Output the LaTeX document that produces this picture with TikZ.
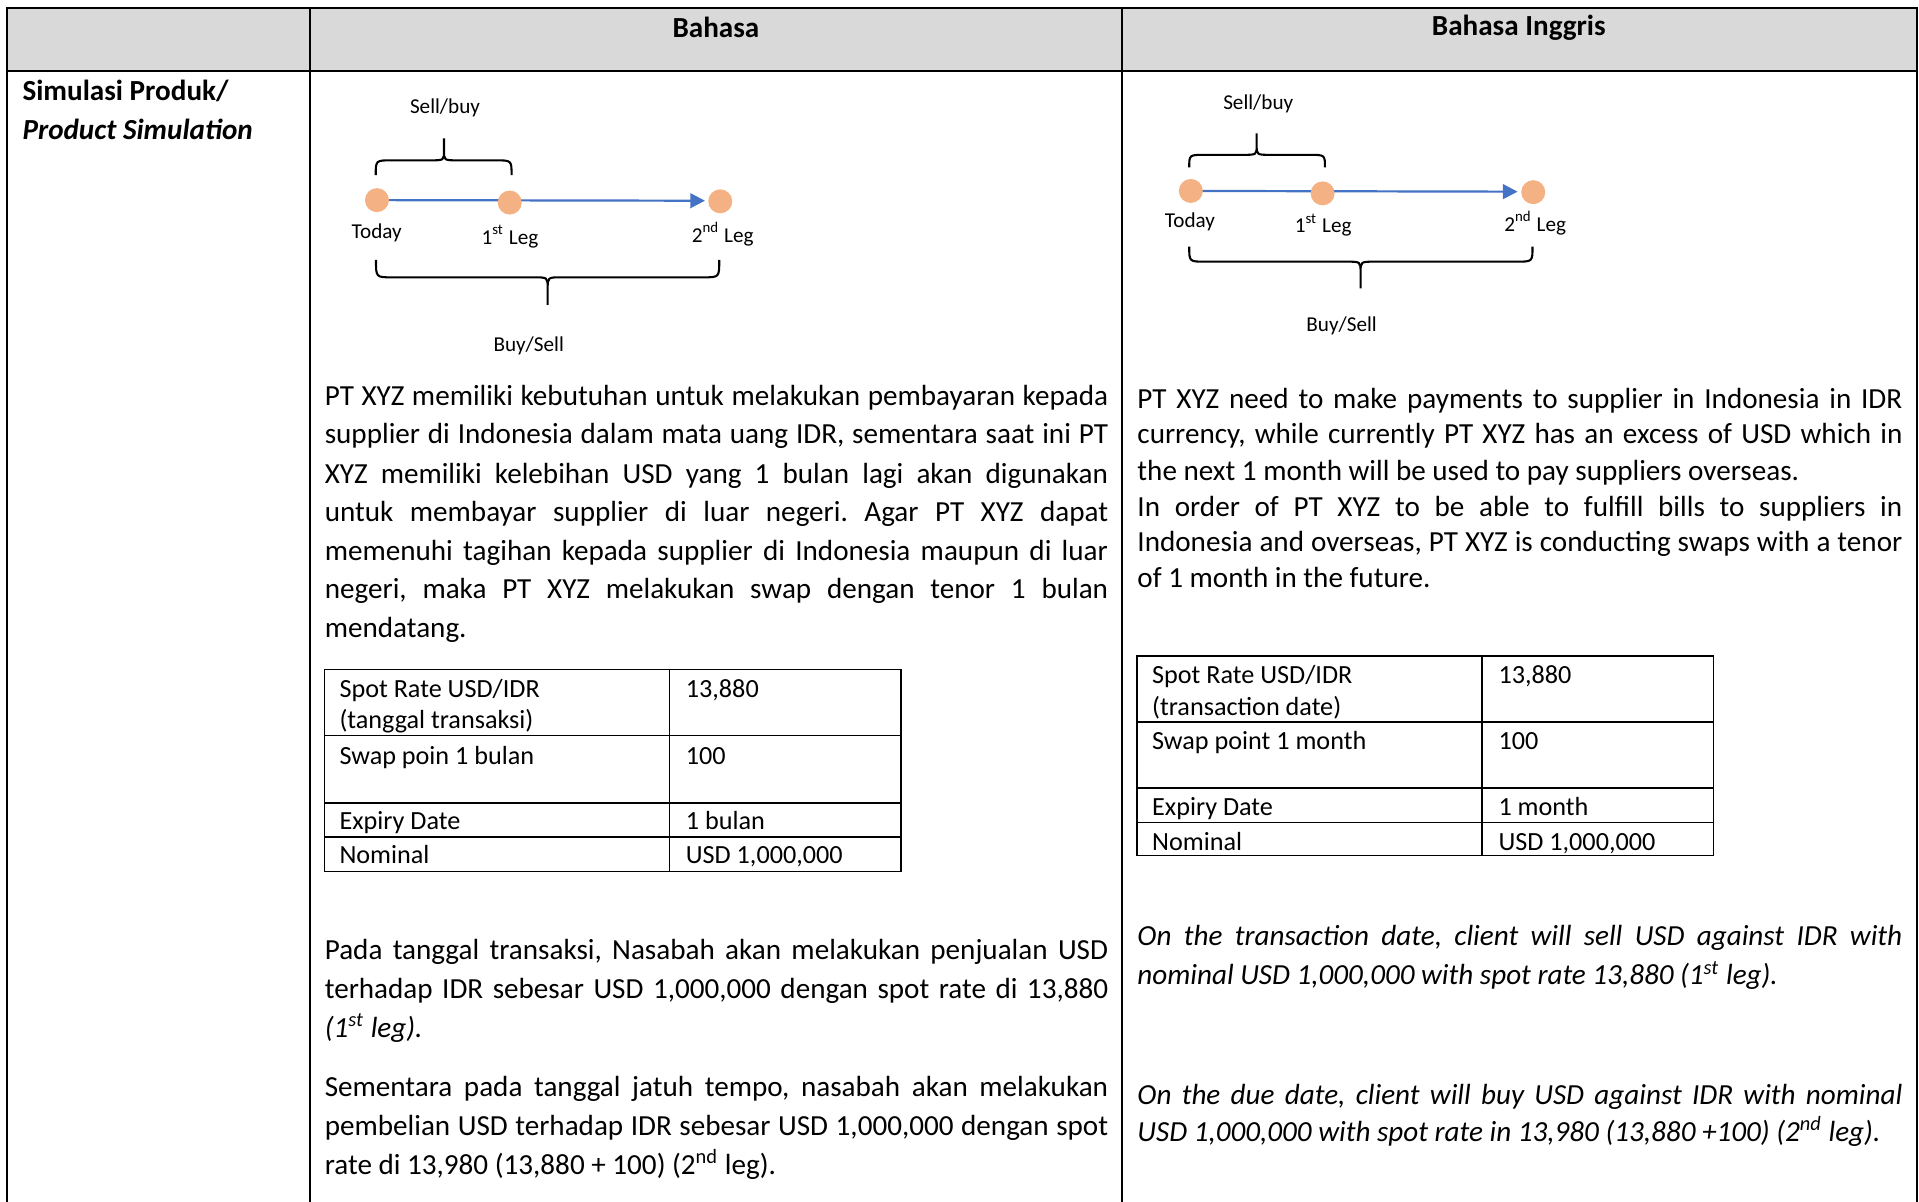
\documentclass[tikz,border=0pt]{standalone}
\usepackage{fontspec}
\setmainfont{Carlito}
\usetikzlibrary{arrows.meta}
\definecolor{hdr}{HTML}{D9D9D9}
\definecolor{dotc}{HTML}{F4B183}
\definecolor{arr}{HTML}{4472C4}
\frenchspacing
\newcommand\PFont{\fontsize{11.9pt}{14pt}\selectfont}
\newcommand\TFont{\fontsize{10.7pt}{13pt}\selectfont}
\newcommand\DFont{\fontsize{8.65pt}{10pt}\selectfont}
\newcommand\LJ[1]{\makebox[320pt][s]{#1}}
\newcommand\RJ[1]{\makebox[312.5pt][s]{#1}}
% brace: x1 x2 xm yEnd yHoriz yStem yTip
\newcommand\bracepath[7]{(#1,#4) .. controls (#1,#5) .. ({#1+13},#5) -- ({#3-11},#5) .. controls (#3,#5) .. (#3,#6) -- (#3,#7)
  (#3,#6) .. controls (#3,#5) .. ({#3+11},#5) -- ({#2-13},#5) .. controls (#2,#5) .. (#2,#4)}
\begin{document}
\begin{tikzpicture}[x=0.5pt,y=-0.5pt,
  outerline/.style={line width=0.85pt},
  itab/.style={line width=0.6pt},
  dotn/.style={circle, fill=dotc, inner sep=0pt, minimum size=9.8pt},
  lbl/.style={font=\DFont, inner sep=0pt, yshift=-0.4pt},
  ptx/.style={font=\PFont, inner sep=0pt, anchor=mid west, yshift=-1.5pt},
  ttx/.style={font=\TFont, inner sep=0pt, anchor=mid west, yshift=-1.4pt},
  hdtx/.style={font=\PFont\bfseries, inner sep=0pt},
  brc/.style={line width=0.85pt},
  arrowline/.style={draw=arr, line width=0.9pt, -{Triangle[length=6pt,width=6pt]}}]
\useasboundingbox (0,0) rectangle (1568,982);

% ---------- outer table ----------
\fill[hdr] (6,6.5) rectangle (1566,58);
\draw[outerline] (6,982) -- (6,6.5) -- (1566,6.5) -- (1566,982);
\draw[outerline] (6,58) -- (1566,58);
\draw[outerline] (253,6.5) -- (253,982);
\draw[outerline] (917,6.5) -- (917,982);

\node[hdtx] (h1) at (585,22.5) {Bahasa};
\node[hdtx] (h2) at (1241,22.5) {Bahasa Inggris};
\node[ptx, font=\PFont\bfseries] (c1a) at (18,74.5) {Simulasi Produk/};
\node[ptx, font=\PFont\bfseries\itshape] (c1b) at (18,106) {Product Simulation};

% ---------- left diagram ----------
\coordinate (tLc) at (308,163.5);
\coordinate (aLc) at (416.5,165.5);
\coordinate (bLc) at (588.5,164.5);
\coordinate (tipL) at (576,164);
\draw[arrowline] (tLc) -- (tipL);
\node[dotn] (tL) at (tLc) {};
\node[dotn] (aL) at (aLc) {};
\node[dotn] (bL) at (bLc) {};
\node[lbl] (tLl) at (307.8,189.5) {Today};
\node[lbl] (aLl) at (416.7,192.5) {1\textsuperscript{st} Leg};
\node[lbl] (bLl) at (590.5,190.5) {2\textsuperscript{nd} Leg};
\draw[brc] \bracepath{307}{418}{362.8}{143}{131}{123}{113};
\draw[brc] \bracepath{307.2}{587.7}{447.5}{212.4}{226.6}{236}{249.2};
\node[lbl] (sbL) at (363.6,87) {Sell/buy};
\node[lbl] (bsL) at (432,281.5) {Buy/Sell};

% ---------- right diagram ----------
\coordinate (tRc) at (973,156);
\coordinate (aRc) at (1080.7,158);
\coordinate (bRc) at (1252.8,157);
\coordinate (tipR) at (1240,156.6);
\draw[arrowline] (tRc) -- (tipR);
\node[dotn] (tR) at (tRc) {};
\node[dotn] (aR) at (aRc) {};
\node[dotn] (bR) at (bRc) {};
\node[lbl] (tRl) at (972.3,180.3) {Today};
\node[lbl] (aRl) at (1081.2,183) {1\textsuperscript{st} Leg};
\node[lbl] (bRl) at (1254.4,181.4) {2\textsuperscript{nd} Leg};
\draw[brc] \bracepath{971.7}{1082.6}{1026.8}{136.7}{126.5}{118.5}{109};
\draw[brc] \bracepath{971.7}{1252.2}{1111.7}{201.5}{213.8}{223}{235.6};
\node[lbl] (sbR) at (1028.1,84.4) {Sell/buy};
\node[lbl] (bsR) at (1096.2,265.5) {Buy/Sell};

% ---------- left paragraph ----------
\node[ptx] (lp1) at (265,323.5) {\LJ{PT XYZ memiliki kebutuhan untuk melakukan pembayaran kepada}};
\node[ptx] (lp2) at (265,355) {\LJ{supplier di Indonesia dalam mata uang IDR, sementara saat ini PT}};
\node[ptx] (lp3) at (265,387) {\LJ{XYZ memiliki kelebihan USD yang 1 bulan lagi akan digunakan}};
\node[ptx] (lp4) at (265,418.5) {\LJ{untuk membayar supplier di luar negeri. Agar PT XYZ dapat}};
\node[ptx] (lp5) at (265,450) {\LJ{memenuhi tagihan kepada supplier di Indonesia maupun di luar}};
\node[ptx] (lp6) at (265,481.5) {\LJ{negeri, maka PT XYZ melakukan swap dengan tenor 1 bulan}};
\node[ptx] (lp7) at (265,513) {mendatang.};

% ---------- right paragraph ----------
\node[ptx] (rp1) at (929,326) {\RJ{PT XYZ need to make payments to supplier in Indonesia in IDR}};
\node[ptx] (rp2) at (929,355) {\RJ{currency, while currently PT XYZ has an excess of USD which in}};
\node[ptx] (rp3) at (929,384.5) {the next 1 month will be used to pay suppliers overseas.};
\node[ptx] (rp4) at (929,414) {\RJ{In order of PT XYZ to be able to fulfill bills to suppliers in}};
\node[ptx] (rp5) at (929,443) {\RJ{Indonesia and overseas, PT XYZ is conducting swaps with a tenor}};
\node[ptx] (rp6) at (929,472) {of 1 month in the future.};

% ---------- left inner table ----------
\draw[itab] (265,547) rectangle (736,712);
\draw[itab] (547,547) -- (547,712);
\draw[itab] (265,601) -- (736,601);
\draw[itab] (265,656) -- (736,656);
\draw[itab] (265,684) -- (736,684);
\node[ttx] (lt1a) at (277,562) {Spot Rate USD/IDR};
\node[ttx] (lt1b) at (277,588) {(tanggal transaksi)};
\node[ttx] (lt1c) at (560,562) {13,880};
\node[ttx] (lt2a) at (277,617) {Swap poin 1 bulan};
\node[ttx] (lt2c) at (560,617) {100};
\node[ttx] (lt3a) at (277,670.5) {Expiry Date};
\node[ttx] (lt3c) at (560,670.5) {1 bulan};
\node[ttx] (lt4a) at (277,698) {Nominal};
\node[ttx] (lt4c) at (560,698) {USD 1,000,000};

% ---------- right inner table ----------
\draw[itab] (929,536) rectangle (1400,699);
\draw[itab] (1211,536) -- (1211,699);
\draw[itab] (929,590) -- (1400,590);
\draw[itab] (929,644) -- (1400,644);
\draw[itab] (929,672) -- (1400,672);
\node[ttx] (rt1a) at (941,550.5) {Spot Rate USD/IDR};
\node[ttx] (rt1b) at (941,577) {(transaction date)};
\node[ttx] (rt1c) at (1224,550.5) {13,880};
\node[ttx] (rt2a) at (941,605) {Swap point 1 month};
\node[ttx] (rt2c) at (1224,605) {100};
\node[ttx] (rt3a) at (941,659) {Expiry Date};
\node[ttx] (rt3c) at (1224,659) {1 month};
\node[ttx] (rt4a) at (941,687) {Nominal};
\node[ttx] (rt4c) at (1224,687) {USD 1,000,000};

% ---------- left lower paragraphs ----------
\node[ptx] (ll1) at (265,776.5) {\LJ{Pada tanggal transaksi, Nasabah akan melakukan penjualan USD}};
\node[ptx] (ll2) at (265,808) {\LJ{terhadap IDR sebesar USD 1,000,000 dengan spot rate di 13,880}};
\node[ptx] (ll3) at (265,840) {\itshape (1\textsuperscript{st} leg).};
\node[ptx] (ll4) at (265,888.5) {\LJ{Sementara pada tanggal jatuh tempo, nasabah akan melakukan}};
\node[ptx] (ll5) at (265,920) {\LJ{pembelian USD terhadap IDR sebesar USD 1,000,000 dengan spot}};
\node[ptx] (ll6) at (265,951.5) {rate di 13,980 (13,880 + 100) (2\textsuperscript{nd} leg).};

% ---------- right lower paragraphs ----------
\node[ptx, font=\PFont\itshape] (rl1) at (929,765) {\RJ{On the transaction date, client will sell USD against IDR with}};
\node[ptx, font=\PFont\itshape] (rl2) at (929,797) {nominal USD 1,000,000 with spot rate 13,880 (1\textsuperscript{st} leg).};
\node[ptx, font=\PFont\itshape] (rl3) at (929,895) {\RJ{On the due date, client will buy USD against IDR with nominal}};
\node[ptx, font=\PFont\itshape] (rl4) at (929,925) {USD 1,000,000 with spot rate in 13,980 (13,880 +100) (2\textsuperscript{nd} leg).};
\end{tikzpicture}
\end{document}
